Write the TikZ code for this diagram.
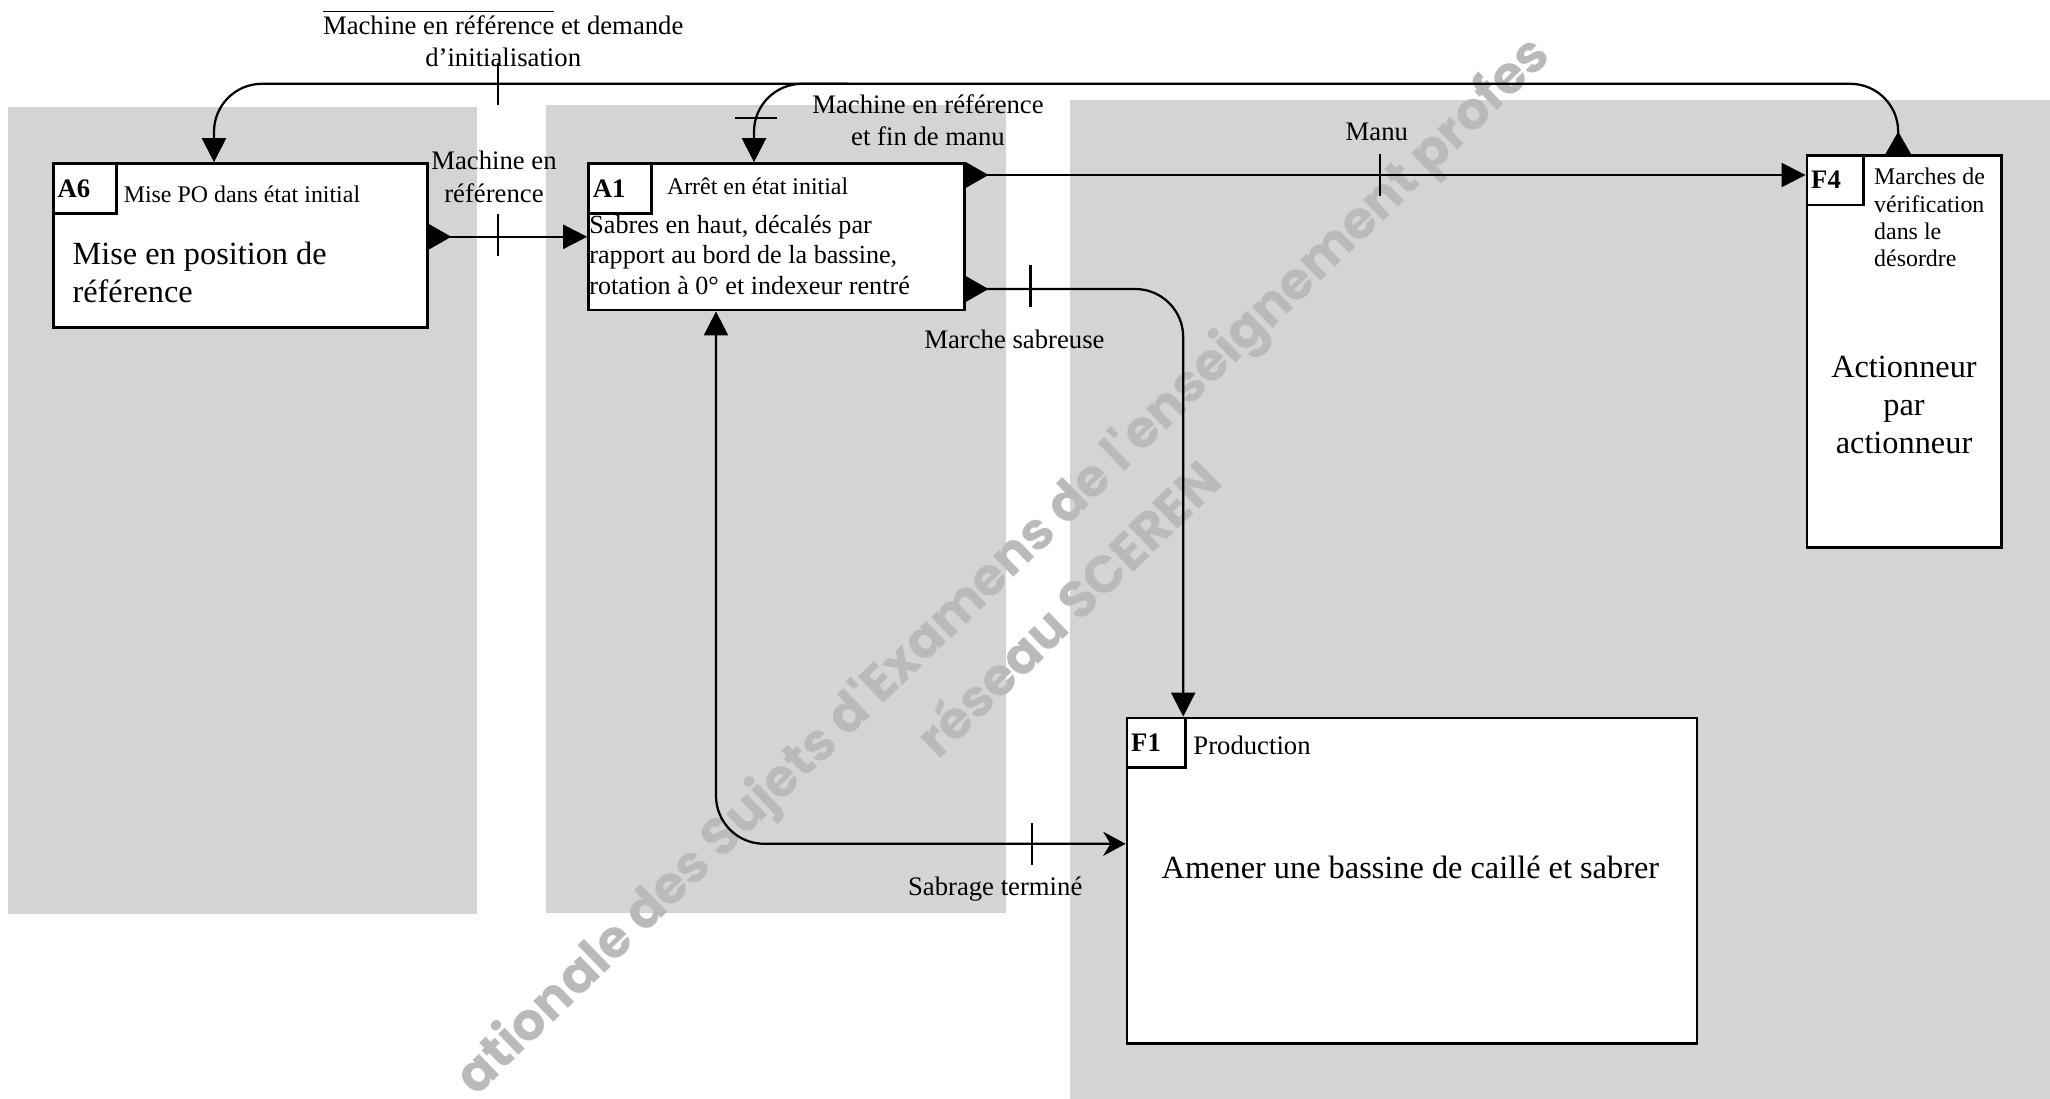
\documentclass[tikz,border=0pt]{standalone}
\usepackage{fontspec}
\setmainfont{Liberation Serif}
\newfontfamily\wmfont{Poppins}
\usepackage{tikz}
\usetikzlibrary{arrows.meta, calc, positioning}
\definecolor{ZoneGray}{RGB}{212,212,212}
\definecolor{MarkGray}{RGB}{186,186,186}

\begin{document}
\begin{tikzpicture}[
    zone/.style={fill=ZoneGray},
    etat/.style={draw, line width=1pt, fill=white, anchor=north west, inner sep=0pt},
    tag/.style={draw, line width=1pt, anchor=north west, minimum height=.62cm,
                text width=.68cm, inner xsep=1.5pt, inner ysep=0pt, align=left,
                font=\bfseries\fontsize{9.5}{11}\selectfont},
    titre/.style={anchor=west, inner sep=0pt, font=\fontsize{8.5}{9.7}\selectfont},
    corps/.style={inner sep=0pt, font=\fontsize{11.5}{13.4}\selectfont},
    lbl/.style={inner sep=0pt, align=center, font=\fontsize{9.5}{11.6}\selectfont},
    wire/.style={line width=.8pt, rounded corners=.6cm},
    arr/.style={wire, -{Triangle[length=.3cm, width=.3cm]}},
    outport/.pic={\fill (0,.16) -- (.28,0) -- (0,-.16) -- cycle;},
    coche/.pic={\draw[line width=.8pt] (0,-.26) -- (0,.26);},
    filigrane/.style={text=MarkGray, rotate=44, inner sep=0pt,
                      font=\wmfont\bfseries\fontsize{18.5}{22}\selectfont}
  ]
  \useasboundingbox (0,0) rectangle (25.625,13.7375);

  % zones
  \fill[zone] (0.10,2.31) rectangle (5.96,12.40);
  \fill[zone] (6.83,2.33) rectangle (12.58,12.43);
  \fill[zone] (13.375,0) rectangle (25.625,12.49);

  % filigrane
  \begin{scope}
    \clip (0,0) rectangle (25.625,13.7375);
    \node[filigrane] (wm1) at (12.56,6.64)
          {ationale des Sujets d'Examens de l'enseignement profes};
    \node[filigrane] (wm2) at (13.33,6.15) {réseau SCEREN};
  \end{scope}

  % A6
  \node[etat, minimum width=4.675cm, minimum height=2.05cm] (A6) at (0.65,11.71) {};
  \node[tag] (A6t) at (A6.north west) {A6};
  \node[titre] at ([xshift=.07cm, yshift=-.08cm]A6t.east) {Mise PO dans état initial};
  \node[corps, align=left, anchor=west] at (0.9,10.33) {Mise en position de\\référence};

  % A1
  \node[etat, minimum width=4.70cm, minimum height=1.83cm] (A1) at (7.34,11.71) {};
  \node[tag] (A1t) at (A1.north west) {A1};
  \node[titre] at ([xshift=.17cm, yshift=.03cm]A1t.east) {Arrêt en état initial};
  \node[inner sep=0pt, align=left, anchor=west, font=\fontsize{9.3}{10.7}\selectfont]
        at (7.36,10.55)
        {Sabres en haut, décalés par\\rapport au bord de la bassine,\\rotation à 0° et indexeur rentré};

  % F4
  \node[etat, minimum width=2.43cm, minimum height=4.9cm] (F4) at (22.57,11.8125) {};
  \node[tag, text width=.6cm] (F4t) at (F4.north west) {F4};
  \node[titre, anchor=north west, align=left]
        at ([xshift=.11cm, yshift=-.17cm]F4t.north east)
        {Marches de\\vérification\\dans le\\désordre};
  \node[corps, align=center] at (23.8,8.675) {Actionneur\\par\\actionneur};

  % F1
  \node[etat, minimum width=7.125cm, minimum height=4.07cm] (F1) at (14.07,4.78) {};
  \node[tag, text width=.63cm] (F1t) at (F1.north west) {F1};
  \node[titre, font=\fontsize{9.5}{11}\selectfont]
        at ([xshift=.07cm, yshift=-.03cm]F1t.east) {Production};
  \node[corps] at (17.63,2.90) {Amener une bassine de caillé et sabrer};

  % points de connexion
  \coordinate (bus) at (0,12.69);
  \coordinate (jct) at (10.6,12.69);
  \coordinate (a6out) at (A6.east |- A1.west);
  \coordinate (a6in) at ($(A6.north west)+(2.025,0)$);
  \coordinate (a1top) at ($(A1.north west)+(2.085,0)$);
  \coordinate (a1manu) at ($(A1.north east)+(0,-.16)$);
  \coordinate (a1sab) at ($(A1.south east)+(0,.28)$);
  \coordinate (a1in) at ($(A1.south west)+(1.61,0)$);
  \coordinate (f1in) at ($(F1.north west)+(.72,0)$);
  \coordinate (f1out) at ($(F1.north west)+(0,-1.59)$);
  \coordinate (f4out) at ($(F4.north)+(-.075,0)$);

  % F4 -> A6 et A1
  \draw[arr] (f4out) |- (a6in |- bus) -- (a6in);
  \draw[arr] (jct) -| (a1top);
  \pic[rotate=90] at (f4out) {outport};
  \pic at (6.225,12.69) {coche};
  \pic[rotate=90] at (9.45,12.26) {coche};
  \node[lbl] (l1) at (6.29,13.255)
        {$\overline{\mbox{Machine en référence}}$ et demande\\d’initialisation};
  \node[lbl] (l2) at (11.6,12.235) {Machine en référence\\et fin de manu};

  % A6 -> A1
  \draw[arr] (a6out) -- (A1.west);
  \pic at (a6out) {outport};
  \pic at (6.225,10.8) {coche};
  \node[lbl] (l3) at (6.175,11.525) {Machine en\\référence};

  % A1 -> F4
  \draw[arr] (a1manu) -- (a1manu -| F4.west);
  \pic at (a1manu) {outport};
  \pic at (17.25,11.55) {coche};
  \node[lbl] (l4) at (17.21,12.09) {Manu};

  % A1 -> F1
  \draw[arr] (a1sab) -| (f1in);
  \pic at (a1sab) {outport};
  \pic at (12.88,10.16) {coche};
  \node[lbl] (l5) at (12.68,9.49) {Marche sabreuse};

  % F1 -> A1
  \draw[wire, {Stealth[length=.28cm, width=.3cm]}-{Triangle[length=.3cm, width=.3cm]}]
        (f1out) -| (a1in);
  \pic at (12.9,3.19) {coche};
  \node[lbl] (l6) at (12.44,2.625) {Sabrage terminé};
\end{tikzpicture}
\end{document}
